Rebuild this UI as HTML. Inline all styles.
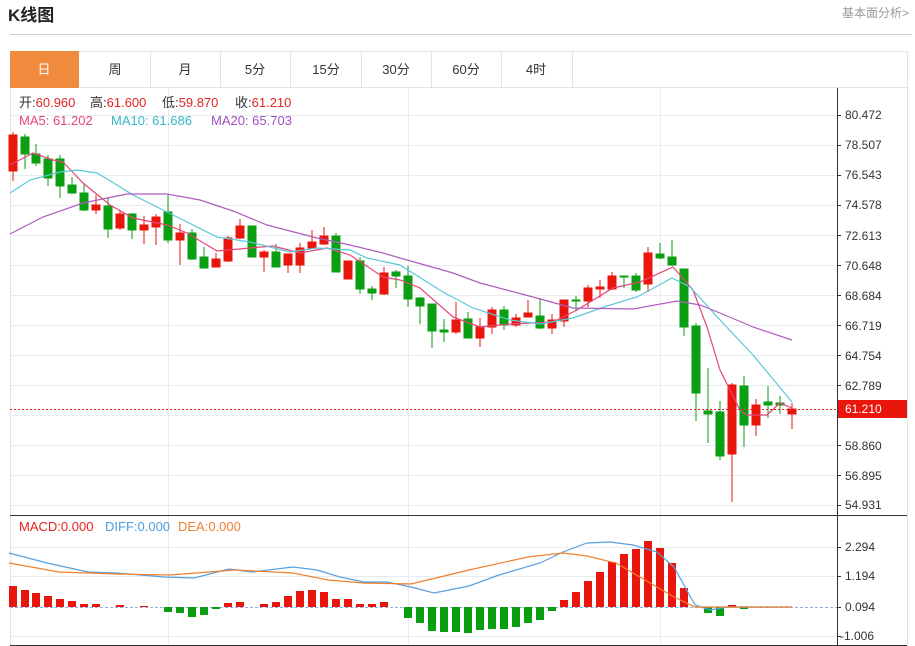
<!DOCTYPE html>
<html><head><meta charset="utf-8"><style>
body{margin:0;background:#fff;width:915px;height:646px;overflow:hidden;font-family:"Liberation Sans","Noto Sans CJK SC",sans-serif}
svg{position:absolute;left:0;top:0}
</style></head><body>
<svg width="915" height="646" xmlns="http://www.w3.org/2000/svg" font-family="Liberation Sans, Noto Sans CJK SC, sans-serif">
<text x="8" y="21" font-size="17" font-weight="bold" fill="#222">K线图</text>
<text x="842" y="17" font-size="12" fill="#999">基本面分析&gt;</text>
<line x1="10" y1="34.5" x2="912" y2="34.5" stroke="#ccc"/>
<rect x="10.5" y="51.5" width="897" height="36" fill="#fff" stroke="#e3e3e3"/>
<rect x="10" y="51" width="69" height="37" fill="#f08a3c"/>
<g stroke="#e3e3e3"><line x1="150.5" y1="51" x2="150.5" y2="87"/><line x1="220.5" y1="51" x2="220.5" y2="87"/><line x1="290.5" y1="51" x2="290.5" y2="87"/><line x1="361.5" y1="51" x2="361.5" y2="87"/><line x1="431.5" y1="51" x2="431.5" y2="87"/><line x1="501.5" y1="51" x2="501.5" y2="87"/><line x1="572.5" y1="51" x2="572.5" y2="87"/></g>
<g font-size="13" text-anchor="middle" fill="#333"><text x="44" y="74" fill="#fff">日</text><text x="115" y="74">周</text><text x="185" y="74">月</text><text x="255" y="74">5分</text><text x="326" y="74">15分</text><text x="396" y="74">30分</text><text x="466" y="74">60分</text><text x="536" y="74">4时</text></g>
<line x1="10.5" y1="88" x2="10.5" y2="646" stroke="#e3e3e3"/>
<line x1="907.5" y1="88" x2="907.5" y2="646" stroke="#e3e3e3"/>
<g stroke="#e8ebef">
<line x1="10" y1="115.5" x2="837" y2="115.5"/><line x1="10" y1="145.5" x2="837" y2="145.5"/><line x1="10" y1="175.5" x2="837" y2="175.5"/><line x1="10" y1="205.5" x2="837" y2="205.5"/><line x1="10" y1="235.5" x2="837" y2="235.5"/><line x1="10" y1="265.5" x2="837" y2="265.5"/><line x1="10" y1="295.5" x2="837" y2="295.5"/><line x1="10" y1="325.5" x2="837" y2="325.5"/><line x1="10" y1="355.5" x2="837" y2="355.5"/><line x1="10" y1="385.5" x2="837" y2="385.5"/><line x1="10" y1="415.5" x2="837" y2="415.5"/><line x1="10" y1="445.5" x2="837" y2="445.5"/><line x1="10" y1="475.5" x2="837" y2="475.5"/><line x1="10" y1="505.5" x2="837" y2="505.5"/>
<line x1="168.5" y1="88" x2="168.5" y2="646"/><line x1="408.5" y1="88" x2="408.5" y2="646"/><line x1="660.5" y1="88" x2="660.5" y2="646"/>
<line x1="10" y1="547.5" x2="837" y2="547.5"/><line x1="10" y1="576.5" x2="837" y2="576.5"/><line x1="10" y1="636.5" x2="837" y2="636.5"/>
</g>
<line x1="837.5" y1="88" x2="837.5" y2="646" stroke="#333"/>
<line x1="10" y1="515.5" x2="907" y2="515.5" stroke="#333"/>
<line x1="10" y1="645.5" x2="907" y2="645.5" stroke="#333"/>
<g font-size="12" fill="#333">
<text x="845" y="119">80.472</text><text x="845" y="149">78.507</text><text x="845" y="179">76.543</text><text x="845" y="209">74.578</text><text x="845" y="240">72.613</text><text x="845" y="270">70.648</text><text x="845" y="300">68.684</text><text x="845" y="330">66.719</text><text x="845" y="360">64.754</text><text x="845" y="390">62.789</text><text x="845" y="450">58.860</text><text x="845" y="480">56.895</text><text x="845" y="509">54.931</text>
<text x="845" y="551">2.294</text><text x="845" y="580">1.194</text><text x="845" y="611">0.094</text><text x="840" y="640">-1.006</text>
</g>
<g stroke="#333"><line x1="837" y1="115.5" x2="841" y2="115.5"/><line x1="837" y1="145.5" x2="841" y2="145.5"/><line x1="837" y1="175.5" x2="841" y2="175.5"/><line x1="837" y1="205.5" x2="841" y2="205.5"/><line x1="837" y1="235.5" x2="841" y2="235.5"/><line x1="837" y1="265.5" x2="841" y2="265.5"/><line x1="837" y1="295.5" x2="841" y2="295.5"/><line x1="837" y1="325.5" x2="841" y2="325.5"/><line x1="837" y1="355.5" x2="841" y2="355.5"/><line x1="837" y1="385.5" x2="841" y2="385.5"/><line x1="837" y1="445.5" x2="841" y2="445.5"/><line x1="837" y1="475.5" x2="841" y2="475.5"/><line x1="837" y1="505.5" x2="841" y2="505.5"/><line x1="837" y1="547.5" x2="841" y2="547.5"/><line x1="837" y1="576.5" x2="841" y2="576.5"/><line x1="837" y1="607.5" x2="841" y2="607.5"/><line x1="837" y1="636.5" x2="841" y2="636.5"/></g>
<g font-size="13">
<text x="19" y="107" fill="#333">开:<tspan fill="#e62222">60.960</tspan></text>
<text x="90" y="107" fill="#333">高:<tspan fill="#e62222">61.600</tspan></text>
<text x="162" y="107" fill="#333">低:<tspan fill="#e62222">59.870</tspan></text>
<text x="235" y="107" fill="#333">收:<tspan fill="#e62222">61.210</tspan></text>
<text x="19" y="125" fill="#e6457a">MA5: 61.202</text>
<text x="111" y="125" fill="#37b8c8">MA10: 61.686</text>
<text x="211" y="125" fill="#a050c0">MA20: 65.703</text>
<text x="19" y="531" fill="#e62222">MACD:0.000</text>
<text x="105" y="531" fill="#4a9ee0">DIFF:0.000</text>
<text x="178" y="531" fill="#f08030">DEA:0.000</text></g>
<g stroke-width="1">
<g fill="#e8160c" stroke="#e8160c">
<line x1="13" y1="132" x2="13" y2="181"/><rect x="9" y="135" width="8" height="36"/>
<line x1="96" y1="195" x2="96" y2="214"/><rect x="92" y="205" width="8" height="5"/>
<line x1="120" y1="210" x2="120" y2="230"/><rect x="116" y="214" width="8" height="14"/>
<line x1="144" y1="216" x2="144" y2="244"/><rect x="140" y="225" width="8" height="5"/>
<line x1="156" y1="214" x2="156" y2="245"/><rect x="152" y="217" width="8" height="10"/>
<line x1="180" y1="224" x2="180" y2="265"/><rect x="176" y="233" width="8" height="7"/>
<line x1="216" y1="253" x2="216" y2="267"/><rect x="212" y="259" width="8" height="8"/>
<line x1="228" y1="236" x2="228" y2="262"/><rect x="224" y="238" width="8" height="23"/>
<line x1="240" y1="219" x2="240" y2="239"/><rect x="236" y="226" width="8" height="12"/>
<line x1="264" y1="250" x2="264" y2="272"/><rect x="260" y="252" width="8" height="5"/>
<line x1="288" y1="254" x2="288" y2="273"/><rect x="284" y="254" width="8" height="11"/>
<line x1="300" y1="243" x2="300" y2="273"/><rect x="296" y="248" width="8" height="17"/>
<line x1="312" y1="230" x2="312" y2="249"/><rect x="308" y="242" width="8" height="6"/>
<line x1="324" y1="227" x2="324" y2="245"/><rect x="320" y="236" width="8" height="8"/>
<line x1="348" y1="261" x2="348" y2="279"/><rect x="344" y="261" width="8" height="18"/>
<line x1="384" y1="267" x2="384" y2="295"/><rect x="380" y="273" width="8" height="21"/>
<line x1="456" y1="302" x2="456" y2="334"/><rect x="452" y="320" width="8" height="12"/>
<line x1="480" y1="318" x2="480" y2="347"/><rect x="476" y="327" width="8" height="11"/>
<line x1="492" y1="307" x2="492" y2="334"/><rect x="488" y="310" width="8" height="17"/>
<line x1="516" y1="314" x2="516" y2="327"/><rect x="512" y="318" width="8" height="7"/>
<line x1="528" y1="300" x2="528" y2="317"/><rect x="524" y="313" width="8" height="4"/>
<line x1="552" y1="314" x2="552" y2="334"/><rect x="548" y="320" width="8" height="8"/>
<line x1="564" y1="300" x2="564" y2="327"/><rect x="560" y="300" width="8" height="21"/>
<line x1="588" y1="285" x2="588" y2="307"/><rect x="584" y="288" width="8" height="13"/>
<line x1="600" y1="280" x2="600" y2="298"/><rect x="596" y="287" width="8" height="2"/>
<line x1="612" y1="272" x2="612" y2="290"/><rect x="608" y="276" width="8" height="13"/>
<line x1="648" y1="247" x2="648" y2="292"/><rect x="644" y="253" width="8" height="31"/>
<line x1="732" y1="383" x2="732" y2="502"/><rect x="728" y="385" width="8" height="69"/>
<line x1="756" y1="399" x2="756" y2="436"/><rect x="752" y="405" width="8" height="20"/>
<line x1="792" y1="403" x2="792" y2="429"/><rect x="788" y="409" width="8" height="5"/>
</g>
<g fill="#0a9e12" stroke="#0a9e12">
<line x1="25" y1="134" x2="25" y2="169"/><rect x="21" y="137" width="8" height="17"/>
<line x1="36" y1="144" x2="36" y2="166"/><rect x="32" y="154" width="8" height="9"/>
<line x1="48" y1="155" x2="48" y2="186"/><rect x="44" y="159" width="8" height="19"/>
<line x1="60" y1="155" x2="60" y2="198"/><rect x="56" y="159" width="8" height="27"/>
<line x1="72" y1="177" x2="72" y2="194"/><rect x="68" y="185" width="8" height="8"/>
<line x1="84" y1="183" x2="84" y2="211"/><rect x="80" y="193" width="8" height="17"/>
<line x1="108" y1="197" x2="108" y2="238"/><rect x="104" y="206" width="8" height="23"/>
<line x1="132" y1="213" x2="132" y2="239"/><rect x="128" y="214" width="8" height="16"/>
<line x1="168" y1="195" x2="168" y2="243"/><rect x="164" y="212" width="8" height="28"/>
<line x1="192" y1="229" x2="192" y2="260"/><rect x="188" y="233" width="8" height="26"/>
<line x1="204" y1="247" x2="204" y2="268"/><rect x="200" y="257" width="8" height="11"/>
<line x1="252" y1="226" x2="252" y2="257"/><rect x="248" y="226" width="8" height="31"/>
<line x1="276" y1="244" x2="276" y2="267"/><rect x="272" y="252" width="8" height="15"/>
<line x1="336" y1="233" x2="336" y2="272"/><rect x="332" y="236" width="8" height="36"/>
<line x1="360" y1="257" x2="360" y2="294"/><rect x="356" y="261" width="8" height="28"/>
<line x1="372" y1="286" x2="372" y2="300"/><rect x="368" y="289" width="8" height="4"/>
<line x1="396" y1="270" x2="396" y2="288"/><rect x="392" y="272" width="8" height="4"/>
<line x1="408" y1="266" x2="408" y2="307"/><rect x="404" y="276" width="8" height="23"/>
<line x1="420" y1="297" x2="420" y2="324"/><rect x="416" y="298" width="8" height="8"/>
<line x1="432" y1="304" x2="432" y2="348"/><rect x="428" y="304" width="8" height="27"/>
<line x1="444" y1="319" x2="444" y2="342"/><rect x="440" y="330" width="8" height="2"/>
<line x1="468" y1="312" x2="468" y2="338"/><rect x="464" y="319" width="8" height="19"/>
<line x1="504" y1="306" x2="504" y2="330"/><rect x="500" y="310" width="8" height="15"/>
<line x1="540" y1="298" x2="540" y2="329"/><rect x="536" y="316" width="8" height="12"/>
<line x1="576" y1="296" x2="576" y2="310"/><rect x="572" y="300" width="8" height="1"/>
<line x1="624" y1="276" x2="624" y2="288"/><rect x="620" y="276" width="8" height="1"/>
<line x1="636" y1="273" x2="636" y2="292"/><rect x="632" y="276" width="8" height="14"/>
<line x1="660" y1="243" x2="660" y2="259"/><rect x="656" y="254" width="8" height="4"/>
<line x1="672" y1="240" x2="672" y2="266"/><rect x="668" y="257" width="8" height="8"/>
<line x1="684" y1="269" x2="684" y2="336"/><rect x="680" y="269" width="8" height="58"/>
<line x1="696" y1="323" x2="696" y2="421"/><rect x="692" y="326" width="8" height="67"/>
<line x1="708" y1="368" x2="708" y2="443"/><rect x="704" y="411" width="8" height="3"/>
<line x1="720" y1="401" x2="720" y2="460"/><rect x="716" y="412" width="8" height="44"/>
<line x1="744" y1="376" x2="744" y2="447"/><rect x="740" y="386" width="8" height="39"/>
<line x1="768" y1="386" x2="768" y2="418"/><rect x="764" y="402" width="8" height="3"/>
<line x1="780" y1="396" x2="780" y2="414"/><rect x="776" y="403" width="8" height="2"/>
</g></g>
<g fill="none" stroke-width="1.2">
<polyline stroke="#e6457a" points="10,165 33,153 53,160 63,162 83,183 110,205 133,218 167,225 187,233 217,251 250,248 273,246 300,253 327,248 350,255 383,277 400,280 420,288 453,317 480,327 510,324 553,322 577,310 613,288 640,282 673,267 693,290 707,327 720,370 740,410 747,415 767,415 780,403 792,408"/>
<polyline stroke="#5bc8d8" points="10,193 30,180 60,172 77,170 97,173 117,185 133,195 167,212 217,237 250,242 290,252 317,248 350,250 367,258 400,265 443,292 473,308 510,320 540,324 573,318 607,306 637,297 672,278 690,287 720,320 753,355 792,402"/>
<polyline stroke="#b05cc0" points="10,234 43,217 83,203 127,194 167,194 200,200 233,211 267,225 317,238 350,245 383,253 400,258 453,273 480,283 533,297 573,308 633,309 677,301 700,305 720,313 753,327 792,340"/>
</g>
<line x1="10" y1="409.5" x2="837" y2="409.5" stroke="#e62222" stroke-dasharray="2,2"/>
<rect x="838" y="400" width="69" height="18" fill="#e8160c"/>
<text x="845" y="413" font-size="12" fill="#fff">61.210</text>
<line x1="10" y1="607.5" x2="837" y2="607.5" stroke="#9ad" stroke-dasharray="3,2"/>
<g fill="#e8160c">
<rect x="9" y="586" width="8" height="21"/><rect x="21" y="590" width="8" height="17"/><rect x="32" y="593" width="8" height="14"/><rect x="44" y="596" width="8" height="11"/><rect x="56" y="599" width="8" height="8"/><rect x="68" y="601" width="8" height="6"/><rect x="80" y="604" width="8" height="3"/><rect x="92" y="604" width="8" height="3"/><rect x="116" y="605" width="8" height="2"/><rect x="140" y="606" width="8" height="1"/>
<rect x="224" y="603" width="8" height="4"/><rect x="236" y="602" width="8" height="5"/><rect x="260" y="604" width="8" height="3"/><rect x="272" y="602" width="8" height="5"/><rect x="284" y="596" width="8" height="11"/><rect x="296" y="591" width="8" height="16"/><rect x="308" y="590" width="8" height="17"/><rect x="320" y="592" width="8" height="15"/><rect x="332" y="599" width="8" height="8"/><rect x="344" y="599" width="8" height="8"/><rect x="356" y="604" width="8" height="3"/><rect x="368" y="604" width="8" height="3"/><rect x="380" y="602" width="8" height="5"/>
<rect x="560" y="600" width="8" height="7"/><rect x="572" y="592" width="8" height="15"/><rect x="584" y="581" width="8" height="26"/><rect x="596" y="572" width="8" height="35"/><rect x="608" y="562" width="8" height="45"/><rect x="620" y="554" width="8" height="53"/><rect x="632" y="549" width="8" height="58"/><rect x="644" y="541" width="8" height="66"/><rect x="656" y="548" width="8" height="59"/><rect x="668" y="563" width="8" height="44"/><rect x="680" y="588" width="8" height="19"/><rect x="728" y="605" width="8" height="2"/>
</g>
<g fill="#0a9e12">
<rect x="164" y="607" width="8" height="5"/><rect x="176" y="607" width="8" height="6"/><rect x="188" y="607" width="8" height="10"/><rect x="200" y="607" width="8" height="8"/><rect x="212" y="607" width="8" height="2"/>
<rect x="404" y="607" width="8" height="11"/><rect x="416" y="607" width="8" height="16"/><rect x="428" y="607" width="8" height="24"/><rect x="440" y="607" width="8" height="25"/><rect x="452" y="607" width="8" height="25"/><rect x="464" y="607" width="8" height="26"/><rect x="476" y="607" width="8" height="23"/><rect x="488" y="607" width="8" height="22"/><rect x="500" y="607" width="8" height="22"/><rect x="512" y="607" width="8" height="20"/><rect x="524" y="607" width="8" height="16"/><rect x="536" y="607" width="8" height="13"/><rect x="548" y="607" width="8" height="4"/>
<rect x="704" y="607" width="8" height="6"/><rect x="716" y="607" width="8" height="9"/><rect x="740" y="607" width="8" height="2"/>
</g>
<g fill="none" stroke-width="1.2">
<polyline stroke="#5aa0e0" points="9,553 47,563 88,572 117,573 164,577 194,578 229,569 252,572 293,567 317,570 340,577 364,582 387,582 411,587 434,593 469,586 499,575 540,563 563,552 587,543 610,542 633,545 657,552 674,567 695,605 710,610 727,607 792,607"/>
<polyline stroke="#f08030" points="9,563 59,572 117,574 170,575 235,570 293,573 328,580 364,583 411,584 469,570 528,557 563,553 587,556 616,563 645,580 674,597 695,607 792,607"/>
</g>
</svg>
</body></html>
